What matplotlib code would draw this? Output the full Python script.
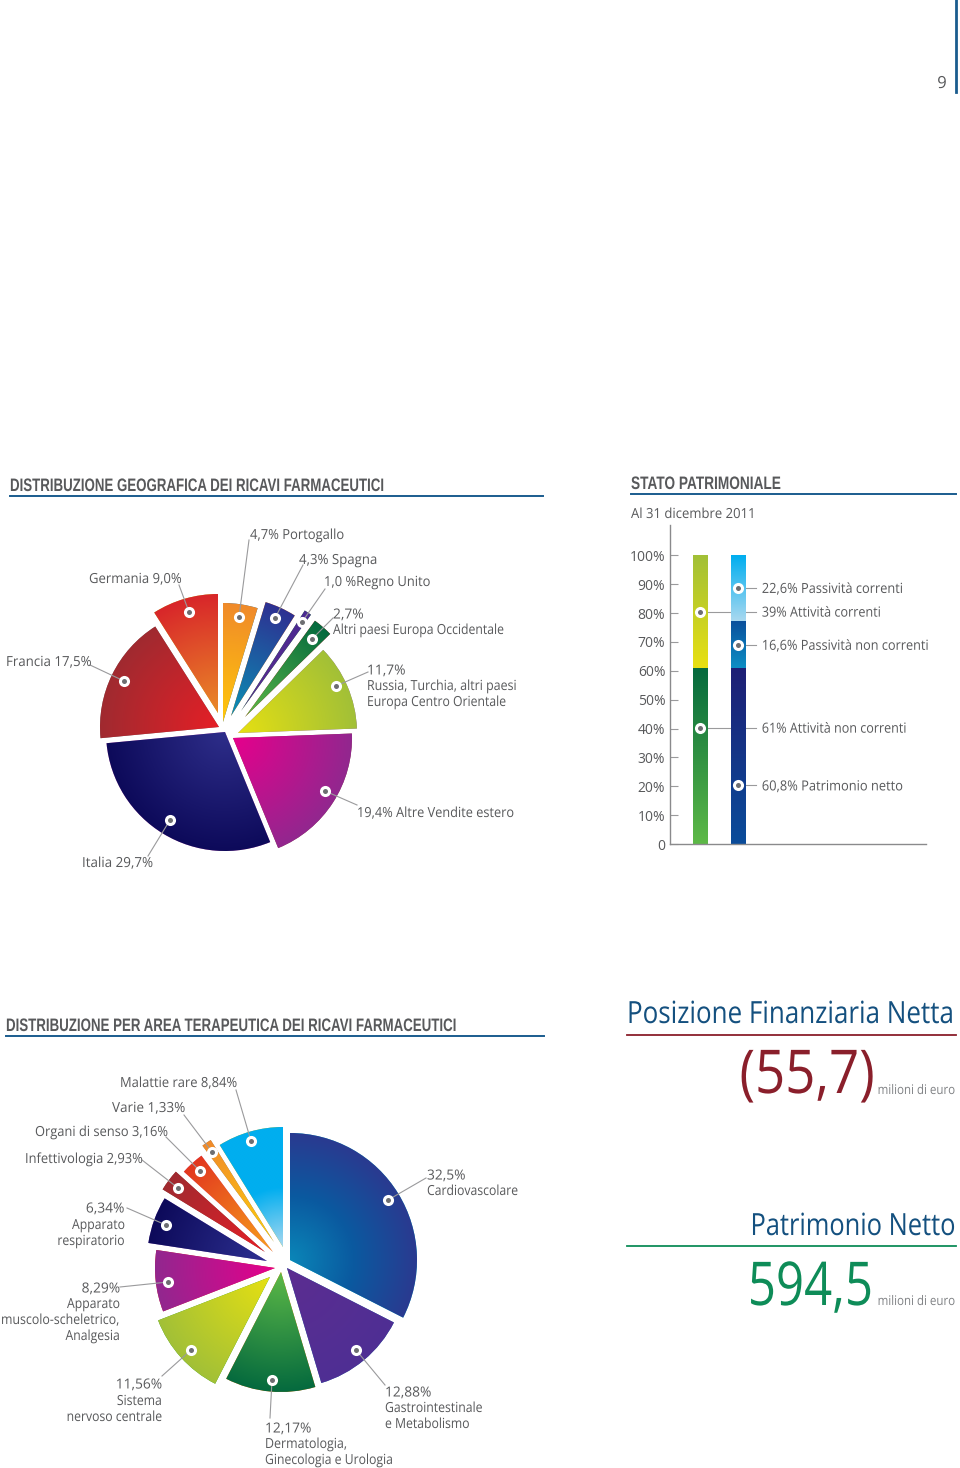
import numpy as np
import matplotlib
matplotlib.use("Agg")
import matplotlib.pyplot as plt
from matplotlib.colors import LinearSegmentedColormap
from matplotlib.patheffects import AbstractPathEffect
from matplotlib.transforms import Affine2D

H = 1468
geo_names = ["Portogallo", "Spagna", "Regno Unito", "Altri Europa", "Russia", "Altre Vendite", "Italia", "Francia", "Germania"]
geo_values = [4.7, 4.3, 1.0, 2.7, 11.7, 19.4, 29.7, 17.5, 9.0]
area_names = ["Cardiovascolare", "Gastrointestinale", "Dermatologia", "Sistema nervoso", "Muscolo", "Respiratorio", "Infettivologia", "Organi di senso", "Varie", "Malattie rare"]
area_values = [32.5, 12.88, 12.17, 11.56, 8.29, 6.34, 2.93, 3.16, 1.33, 8.84]
bar_attivita = [61, 39]
bar_passivita = [60.8, 16.6, 22.6]
bar_ticks = [0, 10, 20, 30, 40, 50, 60, 70, 80, 90, 100]
bar_tick_labels = ["0", "10%", "20%", "30%", "40%", "50%", "60%", "70%", "80%", "90%", "100%"]

plt.rcParams["font.family"] = ["Open Sans", "DejaVu Sans"]
GREY = "#58595b"
LINE = "#9a9a9c"
BLUE = "#14507f"
RED = "#8a1f2b"
GREEN = "#0e8c58"

# apex of every slice in the picture, slices do not share a centre
geo_apex = [(223, 722), (231, 716), (241, 711), (245, 717), (238, 733), (233, 738), (225, 732), (219, 727), (218, 713)]
geo_colors = [("#ffc80a", "#f08a2a"), ("#0a90b4", "#2e3192"), ("#5c2d91", "#4a2a90"), ("#5db947", "#056a3e"),
              ("#e6e012", "#a2c037"), ("#e6008c", "#92278f"), ("#2e2e8a", "#0d0a5a"), ("#e51f26", "#a02a30"),
              ("#ea8a28", "#d8262a")]
area_apex = [(290, 1260), (287, 1268), (281, 1272), (270, 1277), (275, 1268), (267, 1261), (265, 1252), (273, 1252), (274, 1242), (283, 1247)]
area_colors = [("#0a86b8", "#0a5aa0", "#2a3a90"), ("#5c2d91", "#4f2f94"), ("#5db947", "#056a3e"), ("#e6e012", "#a2c037"),
               ("#e6008c", "#92278f"), ("#2e3192", "#0d0a5a"), ("#e51f26", "#a02a30"), ("#f7a01c", "#e2371f"),
               ("#ffd00a", "#f08a2a"), ("#a8d8f0", "#00aeef", "#00aeef")]


class Stretch(AbstractPathEffect):
    # no condensed font here: a smaller font stretched upwards gives the narrow look
    def __init__(self, k):
        super().__init__()
        self.k = k

    def draw_path(self, renderer, gc, tpath, affine, rgbFace=None):
        renderer.draw_path(gc, tpath, Affine2D().scale(1, self.k) + affine, rgbFace)


def py(y):
    return H - y


def radial_fill(ax, wedge, colors):
    # gradient from the apex outwards, clipped to the slice
    cx, cy = wedge.center
    r = wedge.r
    xs = np.linspace(cx - r, cx + r, 300)
    ys = np.linspace(cy - r, cy + r, 300)
    xx, yy = np.meshgrid(xs, ys)
    dist = np.hypot(xx - cx, yy - cy) / r
    cmap = LinearSegmentedColormap.from_list("c", colors)
    im = ax.imshow(dist, extent=(cx - r, cx + r, cy - r, cy + r), origin="lower", cmap=cmap, vmin=0, vmax=1,
                   aspect="auto", zorder=2, interpolation="bilinear")
    im.set_clip_path(wedge)


def draw_pie(ax, values, apex, colors, radius, radii=None):
    wedges, _ = ax.pie(values, radius=radius, startangle=90, counterclock=False, center=(0, 0), normalize=True)
    for i, w in enumerate(wedges):
        w.set_center((apex[i][0], py(apex[i][1])))
        if radii:
            w.set_radius(radii[i])
        w.set_edgecolor("none")
        w.set_zorder(1)
        radial_fill(ax, w, colors[i])


def leader(ax, p, q):
    ax.plot([p[0], q[0]], [py(p[1]), py(q[1])], color=LINE, lw=0.8, zorder=5)
    ax.plot([p[0]], [py(p[1])], "o", ms=8, mfc="white", mec="none", zorder=6)
    ax.plot([p[0]], [py(p[1])], "o", ms=3.6, mfc="#6d6e71", mec="none", zorder=7)


def label(ax, x, y, s, ha="left", size=10, color=GREY):
    # the original face has narrow letters but wide figures
    figures = sum(c in "0123456789,%" for c in s) / len(s)
    squeeze = min(0.88 + 0.2 * figures, 0.99)
    t = ax.text(x, y, s, ha=ha, va="center_baseline", fontsize=size * squeeze, color=color, zorder=8)
    t.set_path_effects([Stretch(1 / squeeze)])
    return t


def narrow(ax, x, y, s, width, size, color, ha="left", family="Open Sans", weight="normal"):
    # size is the look in height, the font is scaled so the text is width px wide
    t = ax.text(x, py(y), s, ha=ha, va="baseline", fontsize=size, color=color, family=family, weight=weight, zorder=8)
    natural = t.get_window_extent(fig.canvas.get_renderer()).width
    t.set_fontsize(size * width / natural)
    t.set_path_effects([Stretch(natural / width)])


fig = plt.figure(figsize=(9.6, 14.68), dpi=100)
ax = fig.add_axes([0, 0, 1, 1])

draw_pie(ax, geo_values, geo_apex, geo_colors, 119)
draw_pie(ax, area_values, area_apex, area_colors, 120, [127] + [120] * 9)
ax.set_xlim(0, 960)
ax.set_ylim(0, H)
ax.set_aspect("auto")
ax.axis("off")

geo_leaders = [((239, 617), (249, 540)), ((275, 618), (303, 565)), ((302, 622), (325, 589)), ((312, 639), (333, 618)),
               ((336, 686), (368, 672)), ((325, 791), (357, 805)), ((170, 820), (148, 856)), ((124, 681), (90, 665)),
               ((189, 612), (179, 585))]
for p, q in geo_leaders:
    leader(ax, p, q)

area_leaders = [((388, 1200), (426, 1178)), ((356, 1350), (385, 1385)), ((272, 1380), (270, 1418)), ((191, 1350), (162, 1376)),
                ((168, 1282), (120, 1287)), ((166, 1225), (127, 1208)), ((178, 1188), (142, 1160)), ((200, 1171), (166, 1137)),
                ((212, 1152), (184, 1115)), ((251, 1141), (236, 1090))]
for p, q in area_leaders:
    leader(ax, p, q)

# headings
narrow(ax, 10, 491, "DISTRIBUZIONE GEOGRAFICA DEI RICAVI FARMACEUTICI", 374, 13, GREY, family="Liberation Sans", weight="bold")
narrow(ax, 631, 489, "STATO PATRIMONIALE", 150, 13, GREY, family="Liberation Sans", weight="bold")
narrow(ax, 6, 1031, "DISTRIBUZIONE PER AREA TERAPEUTICA DEI RICAVI FARMACEUTICI", 451, 13, GREY, family="Liberation Sans", weight="bold")
label(ax, 631, py(513), "Al 31 dicembre 2011")
ax.plot([10, 543], [py(495.5)] * 2, color="#1a5c8e", lw=1.4)
ax.plot([631, 956], [py(493.5)] * 2, color="#1a5c8e", lw=1.4)
ax.plot([6, 544], [py(1036)] * 2, color="#1a5c8e", lw=1.4)
ax.plot([956, 956], [py(0), py(92)], color="#1a5c8e", lw=2)
label(ax, 942, py(82), "9", ha="center", size=12)

# pie labels
for x, y, s, ha in [(250, 534, "4,7% Portogallo", "left"), (299, 559, "4,3% Spagna", "left"), (324, 581, "1,0 %Regno Unito", "left"),
                    (333, 613, "2,7%", "left"), (333, 629, "Altri paesi Europa Occidentale", "left"),
                    (367, 669, "11,7%", "left"), (367, 685, "Russia, Turchia, altri paesi", "left"), (367, 701, "Europa Centro Orientale", "left"),
                    (357, 812, "19,4% Altre Vendite estero", "left"), (82, 862, "Italia 29,7%", "left"),
                    (6, 661, "Francia 17,5%", "left"), (89, 578, "Germania 9,0%", "left")]:
    label(ax, x, py(y), s, ha=ha)
for x, y, s, ha in [(120, 1082, "Malattie rare 8,84%", "left"), (112, 1107, "Varie 1,33%", "left"), (35, 1131, "Organi di senso 3,16%", "left"),
                    (25, 1158, "Infettivologia 2,93%", "left"), (124, 1207, "6,34%", "right"), (125, 1224, "Apparato", "right"),
                    (125, 1240, "respiratorio", "right"), (120, 1287, "8,29%", "right"), (120, 1303, "Apparato", "right"),
                    (120, 1319, "muscolo-scheletrico,", "right"), (120, 1335, "Analgesia", "right"),
                    (162, 1383, "11,56%", "right"), (162, 1400, "Sistema", "right"), (162, 1416, "nervoso centrale", "right"),
                    (265, 1427, "12,17%", "left"), (265, 1443, "Dermatologia,", "left"), (265, 1459, "Ginecologia e Urologia", "left"),
                    (385, 1391, "12,88%", "left"), (385, 1407, "Gastrointestinale", "left"), (385, 1423, "e Metabolismo", "left"),
                    (427, 1174, "32,5%", "left"), (427, 1190, "Cardiovascolare", "left")]:
    label(ax, x, py(y), s, ha=ha)

# right hand figures
narrow(ax, 627, 1023, "Posizione Finanziaria Netta", 327, 22, BLUE)
ax.plot([627, 956], [py(1035)] * 2, color=RED, lw=1.3)
narrow(ax, 875, 1093, "(55,7)", 135, 43.5, RED, ha="right")
narrow(ax, 955, 1094, "milioni di euro", 78, 9.5, "#808285", ha="right")
narrow(ax, 955, 1235, "Patrimonio Netto", 205, 22, BLUE, ha="right")
ax.plot([627, 956], [py(1246)] * 2, color=GREEN, lw=1.3)
narrow(ax, 873, 1305, "594,5", 125, 43.5, GREEN, ha="right")
narrow(ax, 955, 1305, "milioni di euro", 78, 9.5, "#808285", ha="right")

# stacked bars
bx = fig.add_axes([669.5 / 960, (H - 844) / H, (926 - 669.5) / 960, (844 - 525) / H])
bx.patch.set_alpha(0)
bar_colors = {0: [("#5db947", "#056a3e"), ("#e8e012", "#a2c037")],
              1: [("#0a4c9a", "#1e1f75"), ("#0d8ec4", "#0a4f9c"), ("#a8d8f0", "#00aeef")]}
for x, vals in enumerate([bar_attivita, bar_passivita]):
    bottom = 0
    for j, v in enumerate(vals):
        rect = bx.bar(x, v, 0.385, bottom=bottom, color="none")[0]
        cmap = LinearSegmentedColormap.from_list("b", bar_colors[x][j])
        im = bx.imshow(np.linspace(0, 1, 100).reshape(-1, 1), extent=(x - 0.1925, x + 0.1925, bottom, bottom + v),
                       origin="lower", cmap=cmap, aspect="auto", zorder=2)
        im.set_clip_path(rect)
        bottom += v
bx.set_xlim(-0.822, 5.99)
bx.set_ylim(0, 110.5)
bx.set_yticks(bar_ticks)
bx.set_yticklabels(bar_tick_labels, color=GREY, fontsize=10)
bx.set_xticks([])
bx.tick_params(axis="y", direction="in", length=5.8, width=0.8, color=LINE, pad=3)
for side in ["top", "right"]:
    bx.spines[side].set_visible(False)
for side in ["left", "bottom"]:
    bx.spines[side].set_color("#8a8a8c")
    bx.spines[side].set_linewidth(1)

bar_notes = [(1, 88.7, "22,6% Passività correnti"), (0, 80.5, "39% Attività correnti"), (1, 69, "16,6% Passività non correnti"),
             (0, 40.3, "61% Attività non correnti"), (1, 20.3, "60,8% Patrimonio netto")]
for x, y, s in bar_notes:
    # the line runs behind the bars
    bx.plot([x, 1.47], [y, y], color=LINE, lw=0.8, zorder=1)
    bx.plot([x], [y], "o", ms=8, mfc="white", mec="none", zorder=6)
    bx.plot([x], [y], "o", ms=3.6, mfc="#6d6e71", mec="none", zorder=7)
    label(bx, 1.63, y, s)

fig.savefig("out.png", dpi=100)
